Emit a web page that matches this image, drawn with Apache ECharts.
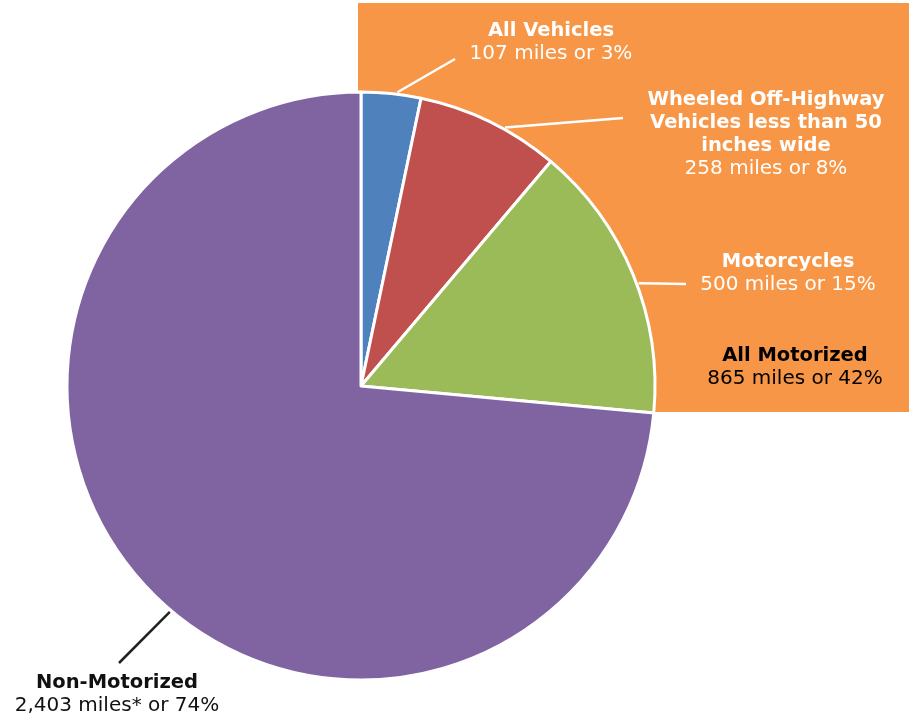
<!DOCTYPE html>
<html>
<head>
<meta charset="utf-8">
<script src="https://cdn.jsdelivr.net/npm/echarts@6/dist/echarts.min.js"></script>
<style>
  html, body { margin: 0; padding: 0; background: #ffffff; }
  #chart { width: 911px; height: 721px; }
</style>
</head>
<body>
<div id="chart"></div>
<script>
// Trail miles by allowed use
const categories = [
  'All Vehicles',
  'Wheeled Off-Highway\nVehicles less than 50\ninches wide',
  'Motorcycles',
  'Non-Motorized'
];
const miles = [107, 258, 500, 2403];
const mileNotes = ['', '', '', '*'];
const motorized = [true, true, true, false];

// Group summary shown inside the highlighted motorized block
const groupNames = ['All Motorized'];
const groupShares = [42];

// Styling
const sliceColors = ['#4F81BD', '#C0504D', '#9BBB59', '#8064A2'];
const FONT = '"DejaVu Sans", Verdana, sans-serif';
const CENTER = [361, 386];
const RADIUS = 294;
const START_ANGLE = 90;

// Label block centres and leader-line ends (per slice)
const labelCenters = [[551, 42], [766, 134], [788, 273], [117, 694]];
const leaderEnds = [[455, 59], [623, 118], [686, 284], [119, 663]];
// Where along each slice's arc the leader line attaches (0 = start, 1 = end)
const leaderAttach = [0.6, 0.61, 0.535, 0.472];

const total = miles.reduce((a, b) => a + b, 0);
const motorizedMiles = miles.reduce((s, v, i) => s + (motorized[i] ? v : 0), 0);
const fmt = v => v.toLocaleString('en-US');
const pct = v => Math.round(v / total * 100);

// Angle (degrees from 12 o'clock, clockwise) where each slice starts
const sliceStarts = [];
miles.reduce((acc, v) => { sliceStarts.push(acc); return acc + v / total * 360; }, 0);

function edgePoint(i) {
  const deg = sliceStarts[i] + leaderAttach[i] * miles[i] / total * 360;
  const rad = deg * Math.PI / 180;
  const r = RADIUS + 2;
  return [CENTER[0] + r * Math.sin(rad), CENTER[1] - r * Math.cos(rad)];
}

function labelText(name, value, note) {
  const head = name.split('\n').map(l => '{b|' + l + '}').join('\n');
  return head + '\n{v|' + fmt(value) + ' miles' + note + ' or ' + pct(value) + '%}';
}

function richFor(color) {
  return {
    b: { fontFamily: FONT, fontWeight: 'bold', fontSize: 19.5, lineHeight: 23, color: color, align: 'center' },
    v: { fontFamily: FONT, fontWeight: 'normal', fontSize: 20, lineHeight: 23, color: color, align: 'center' }
  };
}

const pieData = categories.map((name, i) => {
  const c = motorized[i] ? '#ffffff' : '#111111';
  return {
    name: name,
    value: miles[i],
    itemStyle: { color: sliceColors[i] },
    label: {
      formatter: labelText(name, miles[i], mileNotes[i]),
      rich: richFor(c)
    },
    labelLine: { lineStyle: { color: motorized[i] ? '#ffffff' : '#222222', width: 2.5 } }
  };
});

const chart = echarts.init(document.getElementById('chart'), null, { renderer: 'canvas' });

chart.setOption({
  backgroundColor: '#ffffff',
  animation: false,
  graphic: [
    {
      type: 'rect',
      z: -10,
      shape: { x: 358, y: 3, width: 551, height: 409 },
      style: { fill: '#F79646' }
    },
    {
      type: 'text',
      z: 100,
      x: 795,
      y: 367,
      style: {
        text: '{b|' + groupNames[0] + '}\n{v|' + fmt(motorizedMiles) + ' miles or ' + groupShares[0] + '%}',
        rich: richFor('#111111'),
        align: 'center',
        verticalAlign: 'middle'
      }
    }
  ],
  series: [{
    type: 'pie',
    center: CENTER,
    radius: RADIUS,
    startAngle: START_ANGLE,
    clockwise: true,
    avoidLabelOverlap: false,
    itemStyle: { borderColor: '#ffffff', borderWidth: 3 },
    label: { show: true, position: 'outside', align: 'center' },
    labelLine: { show: true, length: 10, length2: 10, smooth: false },
    emphasis: { disabled: true },
    labelLayout: function (params) {
      const i = params.dataIndex;
      const start = edgePoint(i);
      const end = leaderEnds[i];
      return {
        x: labelCenters[i][0],
        y: labelCenters[i][1],
        align: 'center',
        verticalAlign: 'middle',
        labelLinePoints: [start, end, end]
      };
    },
    data: pieData
  }]
});
</script>
</body>
</html>
